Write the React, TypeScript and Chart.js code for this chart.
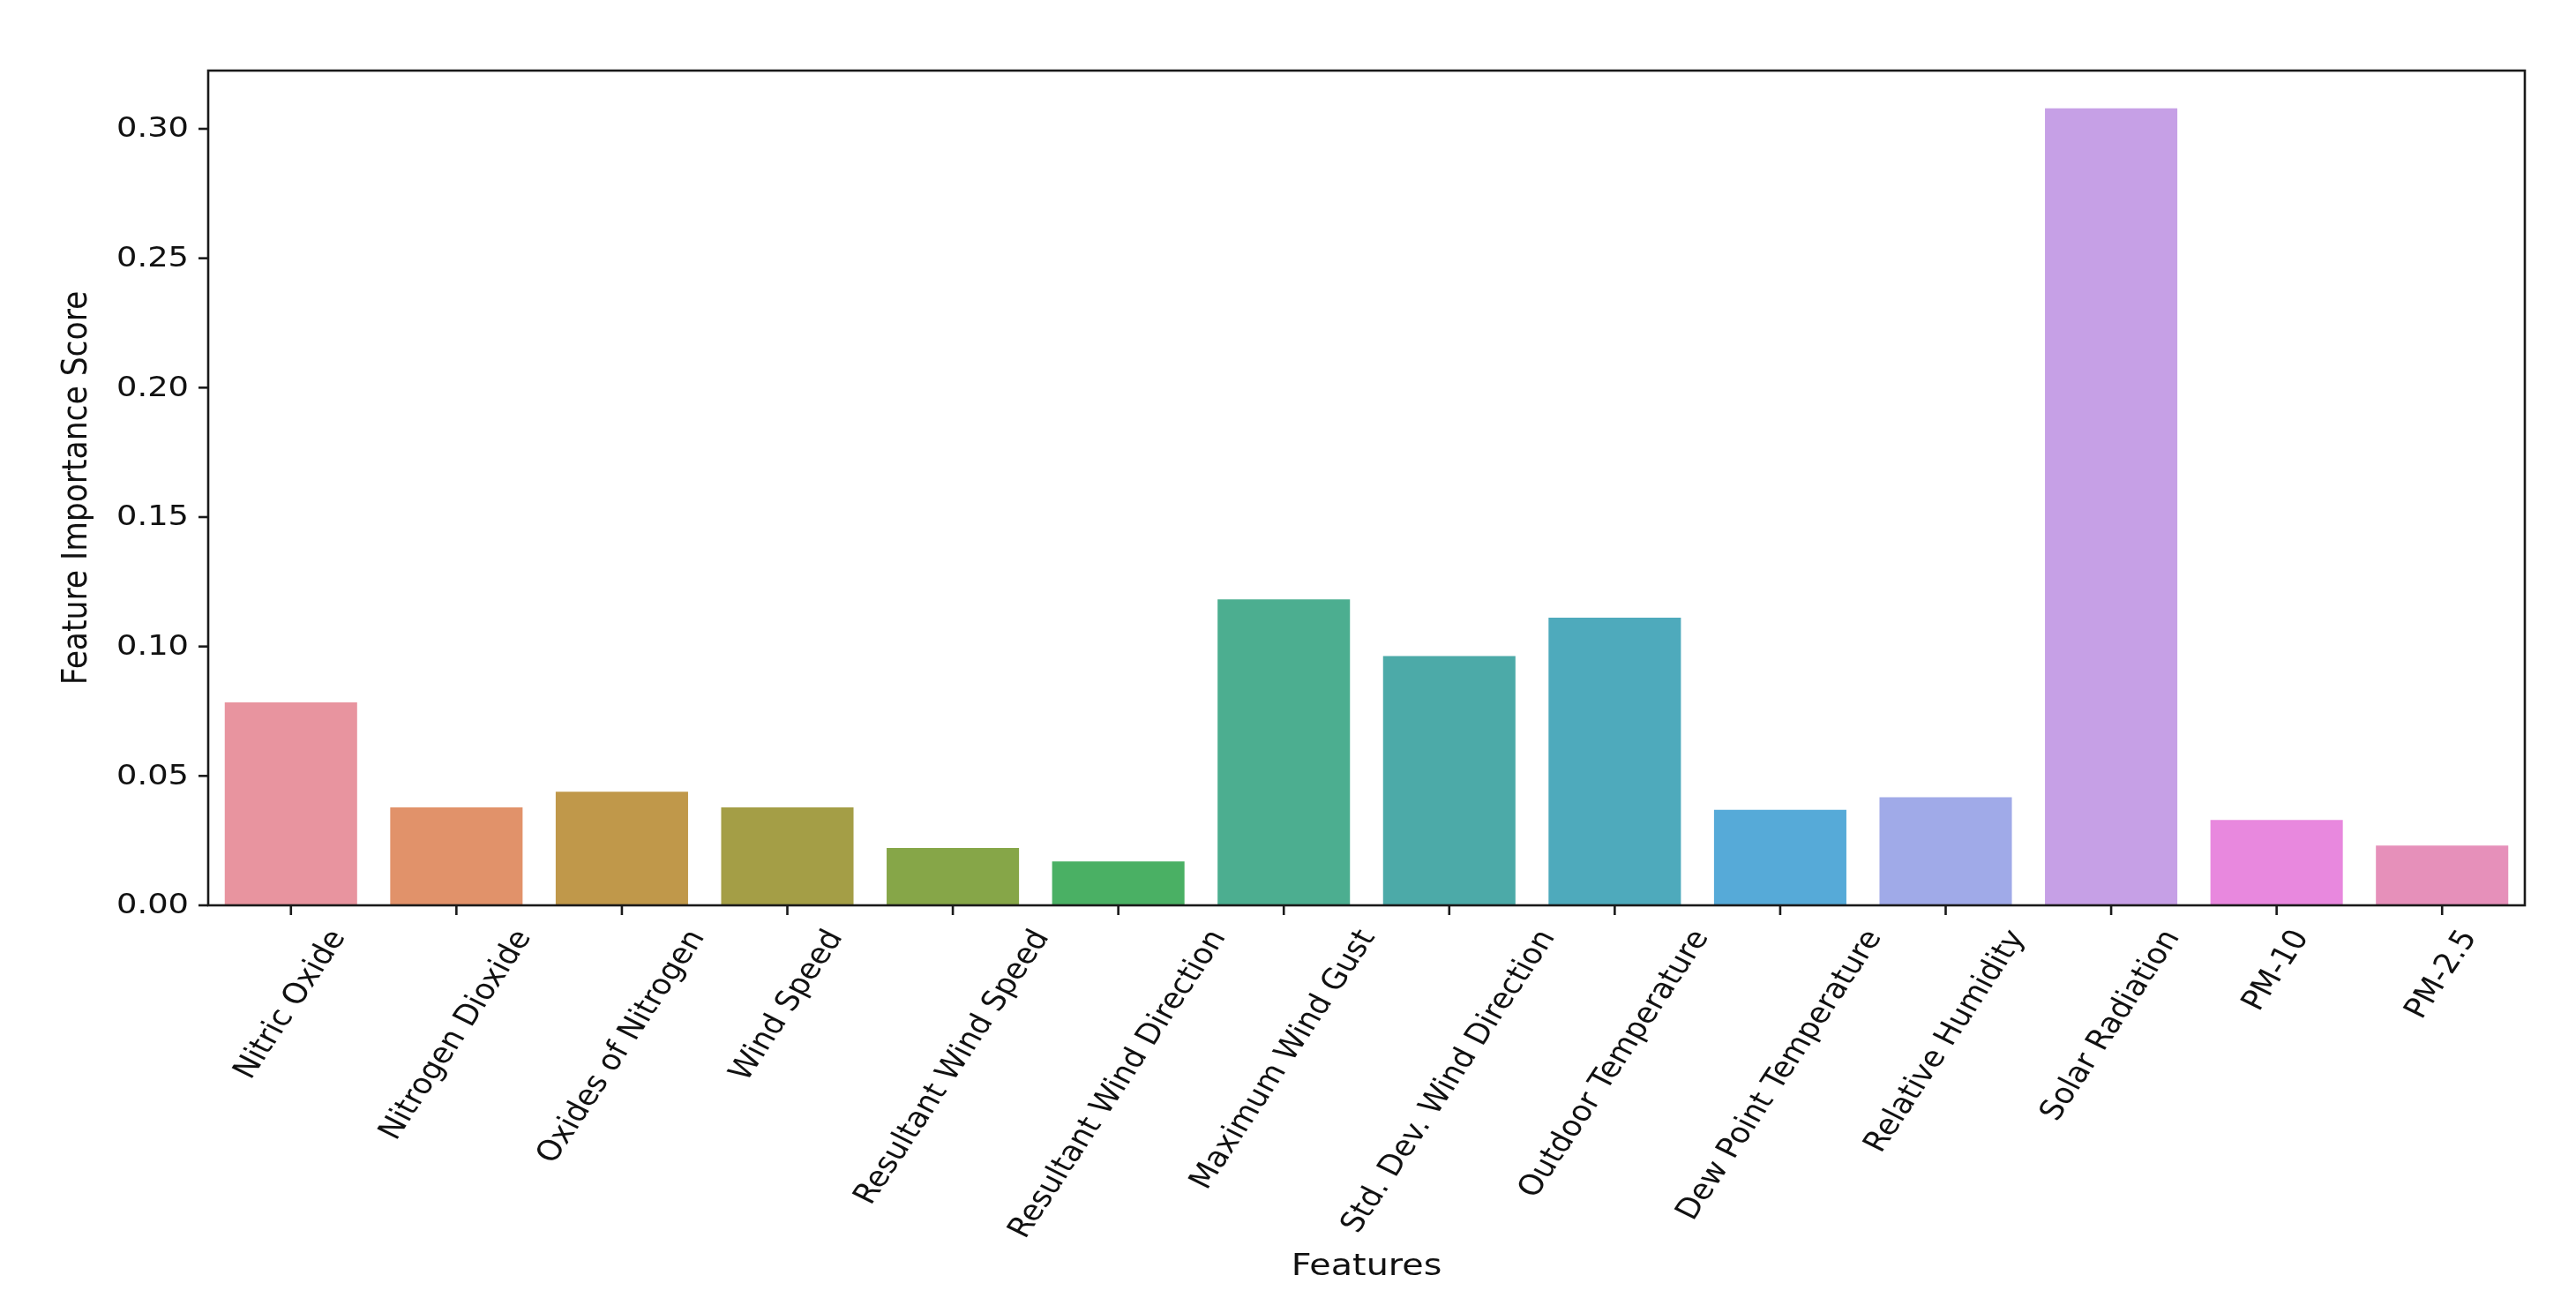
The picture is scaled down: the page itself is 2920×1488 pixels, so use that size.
import React, { useEffect, useRef } from "react";
import { Chart, registerables } from "chart.js";

Chart.register(...registerables);

const categories = [
  "Nitric Oxide",
  "Nitrogen Dioxide",
  "Oxides of Nitrogen",
  "Wind Speed",
  "Resultant Wind Speed",
  "Resultant Wind Direction",
  "Maximum Wind Gust",
  "Std. Dev. Wind Direction",
  "Outdoor Temperature",
  "Dew Point Temperature",
  "Relative Humidity",
  "Solar Radiation",
  "PM-10",
  "PM-2.5",
];

const importance = [
  0.0784, 0.0378, 0.0439, 0.0378, 0.0222, 0.017, 0.1182, 0.0963, 0.1111,
  0.0369, 0.0418, 0.3079, 0.033, 0.0231,
];

const barColors = [
  "#e8949f",
  "#e1926a",
  "#c0984a",
  "#a49e46",
  "#86a648",
  "#4ab064",
  "#4cae90",
  "#4caaa8",
  "#4eaabc",
  "#56aad8",
  "#a0aae8",
  "#c6a0e6",
  "#e888de",
  "#e690ba",
];

const yTickValues = [0, 0.05, 0.1, 0.15, 0.2, 0.25, 0.3];
const yTickLabels = ["0.00", "0.05", "0.10", "0.15", "0.20", "0.25", "0.30"];
const yMax = 0.3225;

const xTitle = "Features";
const yTitle = "Feature Importance Score";

const FONT = "'DejaVu Sans', sans-serif";
const TICK_PX = 32;
const LABEL_PX = 34.5;
const STRETCH = 1.15;
const TICK_LEN = 11;
const TICK_PAD = 11;
const LINE_W = 2.6;

const axesPlugin = {
  id: "mplAxes",
  afterDraw(chart: any) {
    const ctx = chart.ctx;
    const area = chart.chartArea;
    const xs = chart.scales.x;
    const ys = chart.scales.y;
    ctx.save();
    ctx.strokeStyle = "#1a1a1a";
    ctx.fillStyle = "#111";
    ctx.lineWidth = LINE_W;
    ctx.strokeRect(area.left, area.top, area.right - area.left, area.bottom - area.top);

    // y ticks
    ctx.font = `${TICK_PX}px ${FONT}`;
    yTickValues.forEach((v, i) => {
      const y = ys.getPixelForValue(v);
      ctx.beginPath();
      ctx.moveTo(area.left - TICK_LEN, y);
      ctx.lineTo(area.left, y);
      ctx.stroke();
      ctx.save();
      ctx.translate(area.left - TICK_LEN - TICK_PAD, y + 1);
      ctx.scale(STRETCH, 1);
      ctx.textAlign = "right";
      ctx.textBaseline = "middle";
      ctx.fillText(yTickLabels[i], 0, 0);
      ctx.restore();
    });

    // x ticks + rotated labels (matplotlib-like centered bbox)
    const ang = (60 * Math.PI) / 180;
    const top = area.bottom + TICK_LEN + TICK_PAD;
    const hBox = TICK_PX * 1.164;
    categories.forEach((lab, i) => {
      const x = xs.getPixelForValue(i);
      ctx.beginPath();
      ctx.moveTo(x, area.bottom);
      ctx.lineTo(x, area.bottom + TICK_LEN);
      ctx.stroke();
      const w = ctx.measureText(lab).width;
      const H = w * Math.sin(ang) + hBox * Math.cos(ang);
      ctx.save();
      ctx.translate(x, top + H / 2);
      ctx.scale(STRETCH, 1);
      ctx.rotate(-ang);
      ctx.textAlign = "center";
      ctx.textBaseline = "middle";
      ctx.fillText(lab, 0, 0);
      ctx.restore();
    });

    // axis titles
    ctx.font = `${LABEL_PX}px ${FONT}`;
    ctx.save();
    ctx.translate((area.left + area.right) / 2, 1445);
    ctx.scale(STRETCH, 1);
    ctx.textAlign = "center";
    ctx.textBaseline = "alphabetic";
    ctx.fillText(xTitle, 0, 0);
    ctx.restore();

    ctx.save();
    ctx.translate(98, (area.top + area.bottom) / 2);
    ctx.scale(STRETCH, 1);
    ctx.rotate(-Math.PI / 2);
    ctx.textAlign = "center";
    ctx.textBaseline = "alphabetic";
    ctx.fillText(yTitle, 0, 0);
    ctx.restore();

    ctx.restore();
  },
};

export default function App() {
  const ref = useRef<HTMLCanvasElement | null>(null);

  useEffect(() => {
    document.body.style.margin = "0";
    const canvas = ref.current;
    if (!canvas) return;
    const chart = new Chart(canvas, {
      type: "bar",
      data: {
        labels: categories,
        datasets: [
          {
            data: importance,
            backgroundColor: barColors,
            borderWidth: 0,
            categoryPercentage: 0.8,
            barPercentage: 1.0,
          },
        ],
      },
      options: {
        responsive: false,
        animation: false,
        devicePixelRatio: 1,
        layout: { padding: { top: 80, right: 58, left: 0, bottom: 0 } },
        plugins: {
          legend: { display: false },
          tooltip: { enabled: false },
          title: { display: false },
        },
        scales: {
          x: {
            type: "category",
            offset: true,
            grid: { display: false },
            border: { display: false },
            ticks: { display: false },
            afterFit: (s: any) => {
              s.height = 462;
            },
          },
          y: {
            type: "linear",
            min: 0,
            max: yMax,
            grid: { display: false },
            border: { display: false },
            ticks: { display: false },
            afterFit: (s: any) => {
              s.width = 236;
            },
          },
        },
      },
      plugins: [axesPlugin],
    });
    return () => chart.destroy();
  }, []);

  return (
    <div style={{ width: 2920, height: 1488, background: "#fff" }}>
      <canvas ref={ref} width={2920} height={1488} style={{ display: "block" }} />
    </div>
  );
}
